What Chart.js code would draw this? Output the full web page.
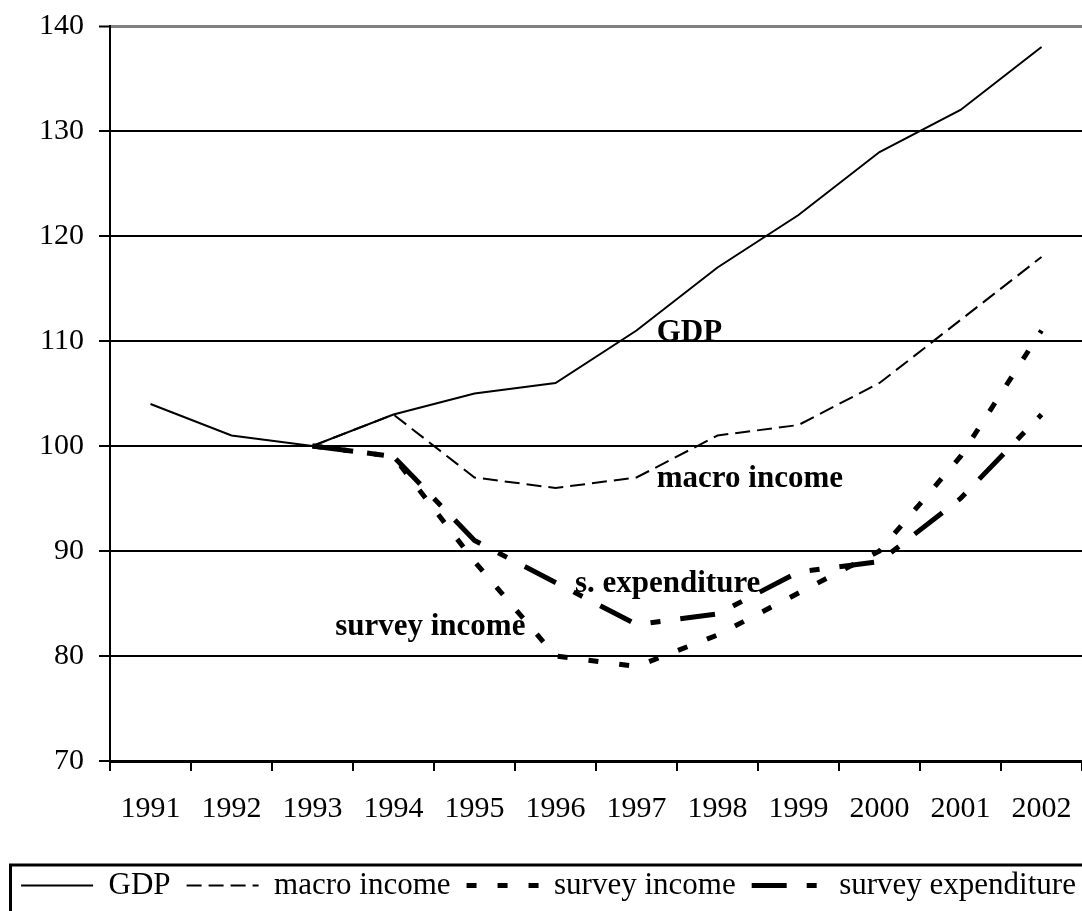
<!DOCTYPE html>
<html><head><meta charset="utf-8">
<script src="https://cdn.jsdelivr.net/npm/chart.js@4"></script>
<style>html,body{margin:0;padding:0;background:#fff;overflow:hidden}#wrap{width:1082px;height:911px}</style>
</head><body><div id="wrap"><canvas id="c" width="1082" height="911"></canvas></div>
<script>
const years = ['1991','1992','1993','1994','1995','1996','1997','1998','1999','2000','2001','2002'];
const gdp = [104,101,100,103,105,106,111,117,122,128,132,138];
const macroIncome = [null,null,100,103,97,96,97,101,102,106,112,118];
const surveyIncome = [null,null,100,99,89,80,79,82,86,90,99,111];
const surveyExpenditure = [null,null,100,99,91,87,83,84,88,89,95,103];
const seriesNames = ['GDP','macro income','survey income','survey expenditure'];
const yMin = 70, yMax = 140, yStep = 10;
// in-plot notes (category position, value)
const noteTexts = ['GDP','macro income','s. expenditure','survey income'];
const noteX = [6.25, 6.25, 5.24, 2.28];
const noteY = [110, 96.1, 86.1, 82.0];

const FONT = '"Liberation Serif", "Times New Roman", serif';

const notesPlugin = {
  id: 'notes',
  afterDatasetsDraw(chart) {
    const {ctx, scales: {x, y}} = chart;
    ctx.save();
    ctx.font = 'bold 31px ' + FONT;
    ctx.fillStyle = '#000';
    ctx.textAlign = 'left';
    ctx.textBaseline = 'alphabetic';
    noteTexts.forEach((t, i) => ctx.fillText(t, x.getPixelForValue(noteX[i]), y.getPixelForValue(noteY[i])));
    ctx.restore();
  }
};
const legendBoxPlugin = {
  id: 'legendBox',
  afterDraw(chart) {
    const lg = chart.legend, ctx = chart.ctx;
    ctx.save();
    ctx.strokeStyle = '#000';
    ctx.lineWidth = 3;
    ctx.strokeRect(10.5, lg.top + 11, chart.width + 20, 200);
    ctx.restore();
  }
};

const styles = [
  {w: 2, dash: []},
  {w: 2, dash: [15, 7]},
  {w: 5, dash: [10, 21]},
  {w: 5, dash: [35, 20, 10, 20]}
];
const allSeries = [gdp, macroIncome, surveyIncome, surveyExpenditure];

new Chart(document.getElementById('c'), {
  type: 'line',
  data: {
    labels: years,
    datasets: allSeries.map((d, i) => ({
      label: seriesNames[i],
      data: d,
      borderColor: '#000',
      backgroundColor: '#000',
      borderWidth: styles[i].w,
      borderDash: styles[i].dash,
      borderCapStyle: 'butt',
      pointRadius: 0,
      pointHoverRadius: 0,
      tension: 0,
      fill: false,
      spanGaps: false
    }))
  },
  options: {
    responsive: false,
    animation: false,
    devicePixelRatio: 1,
    layout: {padding: {top: 26, left: 3, right: -12, bottom: 0}},
    plugins: {
      tooltip: {enabled: false},
      legend: {
        position: 'bottom',
        labels: {
          usePointStyle: true,
          pointStyle: 'line',
          pointStyleWidth: 72,
          padding: 16,
          color: '#000',
          font: {family: FONT, size: 31},
          generateLabels(chart) {
            return chart.data.datasets.map((ds, i) => ({
              text: ds.label,
              fillStyle: '#000',
              strokeStyle: '#000',
              fontColor: '#000',
              lineWidth: ds.borderWidth,
              lineDash: ds.borderDash,
              lineCap: 'butt',
              pointStyle: 'line',
              rotation: 180,
              hidden: false,
              datasetIndex: i
            }));
          }
        }
      }
    },
    scales: {
      x: {
        type: 'category',
        offset: true,
        grid: {offset: true, drawOnChartArea: false, drawTicks: true, tickLength: 10, color: '#000', lineWidth: 2},
        border: {color: '#000', width: 3},
        ticks: {color: '#000', font: {family: FONT, size: 30}, padding: 20, maxRotation: 0, autoSkip: false},
        afterFit(s) { s.height = 93; s.paddingLeft = 0; s.paddingRight = 0; }
      },
      y: {
        min: yMin, max: yMax,
        ticks: {stepSize: yStep, color: '#000', font: {family: FONT, size: 30}, padding: 15},
        grid: {
          color: c => (c.tick && c.tick.value === yMax) ? '#808080' : '#000',
          lineWidth: c => (c.tick && c.tick.value === yMax) ? 3 : 2,
          tickColor: '#000', tickLength: 11, tickWidth: 2
        },
        border: {color: '#000', width: 2},
        afterFit(s) { s.width = 107; s.paddingTop = 10; s.paddingBottom = 10; }
      },
      yRight: {
        position: 'right',
        display: true,
        grid: {display: false, drawTicks: false},
        border: {display: false},
        ticks: {display: false},
        afterFit(s) { s.width = 9; s.paddingTop = 0; s.paddingBottom = 0; }
      }
    }
  },
  plugins: [notesPlugin, legendBoxPlugin]
});
</script></body></html>
